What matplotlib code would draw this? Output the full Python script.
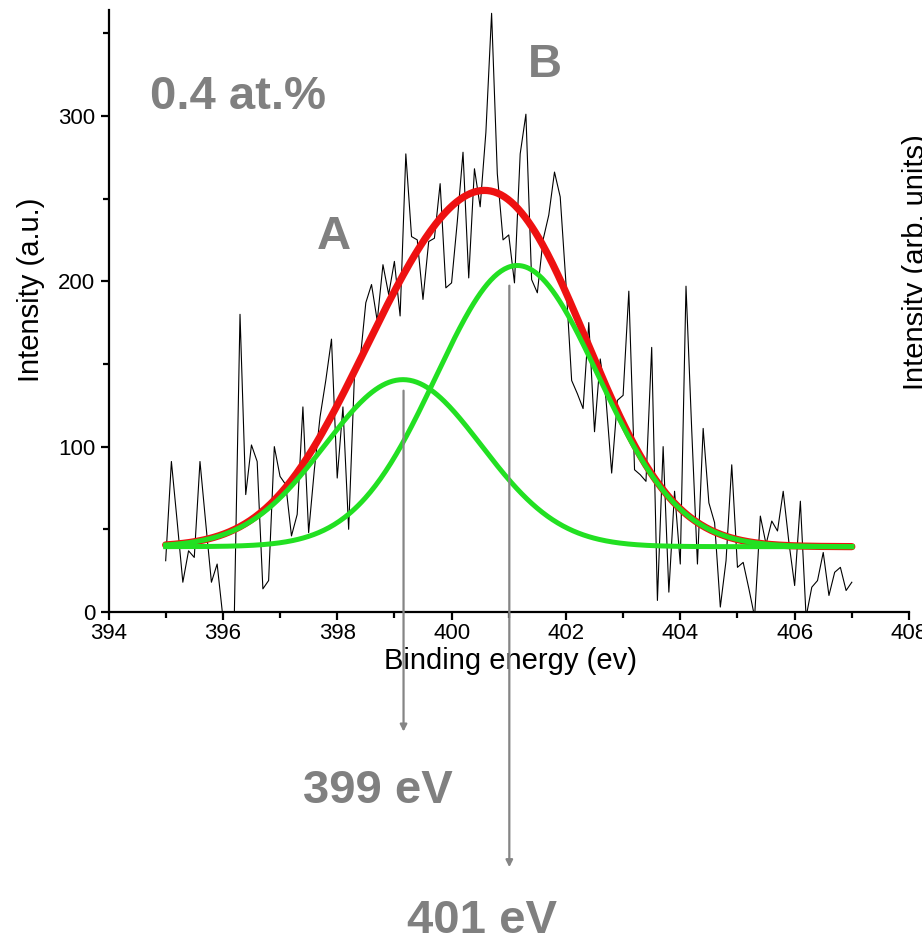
import numpy as np
import matplotlib
matplotlib.use("Agg")
import matplotlib.pyplot as plt
from matplotlib.ticker import MultipleLocator

plt.rcParams['font.family'] = ['Liberation Sans', 'DejaVu Sans']

# raw XPS N1s spectrum, 0.1 eV steps from 395.0 to 407.0
energy = np.round(np.arange(395.0, 407.05, 0.1), 1)
counts = [31, 91, 55, 18, 37, 33, 91, 54, 18, 29,
          -3, -15, -3, 180, 71, 101, 91, 14, 19, 100,
          82, 77, 46, 59, 124, 48, 86, 118, 140, 165,
          81, 124, 50, 142, 152, 187, 198, 176, 210, 192,
          212, 179, 277, 227, 225, 189, 224, 226, 259, 196,
          199, 236, 278, 202, 268, 245, 290, 362, 265, 225,
          228, 199, 277, 301, 201, 193, 225, 240, 266, 251,
          199, 140, 132, 123, 175, 109, 153, 129, 84, 128,
          131, 194, 86, 83, 79, 160, 7, 100, 12, 73,
          29, 197, 110, 29, 111, 66, 54, 3, 31, 89,
          27, 30, 14, -3, 58, 41, 55, 49, 73, 42,
          16, 67, -3, 15, 19, 36, 10, 24, 27, 13, 18]

# fitted gaussian components
baseline = 39.5
peak_center = [399.15, 401.15]
peak_height = [101, 170]
peak_sigma = [1.37, 1.42]
peak_names = ['A', 'B']
peak_labels = ['399 eV', '401 eV']
arrow_x = [399.16, 401.01]
arrow_top = [135.5, 199]
arrow_end = [-74, -156]

W, H = 922, 944
fig = plt.figure(figsize=(W / 100, H / 100), dpi=100)
ax = fig.add_axes([108.5 / W, 1 - 612 / H, (909 - 108.5) / W, (612 - 10) / H])

xf = np.linspace(395, 407, 400)
comps = [baseline + h * np.exp(-(xf - c) ** 2 / (2 * s ** 2))
         for c, h, s in zip(peak_center, peak_height, peak_sigma)]
total = comps[0] + comps[1] - baseline

ax.plot(energy, counts, color='black', lw=0.8, zorder=2)
ax.plot(xf, total, color='#ee1111', lw=5.2, solid_capstyle='round', zorder=3)
for cmp in comps:
    ax.plot(xf, cmp, color='#22e022', lw=3.6, zorder=4)

ax.set_xlim(394, 408)
ax.set_ylim(0, 364)
ax.xaxis.set_major_locator(MultipleLocator(2))
ax.xaxis.set_minor_locator(MultipleLocator(1))
ax.yaxis.set_major_locator(MultipleLocator(100))
ax.yaxis.set_minor_locator(MultipleLocator(50))
for s in ['top', 'right']:
    ax.spines[s].set_visible(False)
for s in ['left', 'bottom']:
    ax.spines[s].set_linewidth(1.6)
ax.tick_params(which='major', direction='out', length=6, width=1.6, labelsize=16)
ax.tick_params(axis='x', which='major', pad=2)
ax.tick_params(which='minor', direction='out', length=4, width=1.6)

ax.set_xlabel('Binding energy (ev)', fontsize=21)
ax.set_ylabel('Intensity (a.u.)', fontsize=21)
ax.xaxis.set_label_coords(0.5016, -0.058)
ax.yaxis.set_label_coords(-0.079, 0.535)

gray = '#858585'
for xa, yt, ye in zip(arrow_x, arrow_top, arrow_end):
    ax.annotate('', xy=(xa, ye), xytext=(xa, yt),
                arrowprops=dict(arrowstyle='-|>', color=gray, lw=1.6, mutation_scale=10),
                annotation_clip=False, zorder=5)

bold = dict(color='#808080', fontweight='bold', fontsize=34)
fig.text(150 / W, 1 - 97 / H, '0.4 at.%', ha='left', va='center', **bold)
fig.text(334 / W, 1 - 237 / H, peak_names[0], ha='center', va='center', **bold)
fig.text(545 / W, 1 - 65 / H, peak_names[1], ha='center', va='center', **bold)
fig.text(378 / W, 1 - 791 / H, peak_labels[0], ha='center', va='center', **bold)
fig.text(482 / W, 1 - 921 / H, peak_labels[1], ha='center', va='center', **bold)

# label of the neighbouring panel, cut by the figure edge
fig.text(902 / W, 1 - 262 / H, 'Intensity (arb. units)', rotation=90,
         ha='left', va='center', fontsize=21)

fig.savefig('out.png', dpi=100)
